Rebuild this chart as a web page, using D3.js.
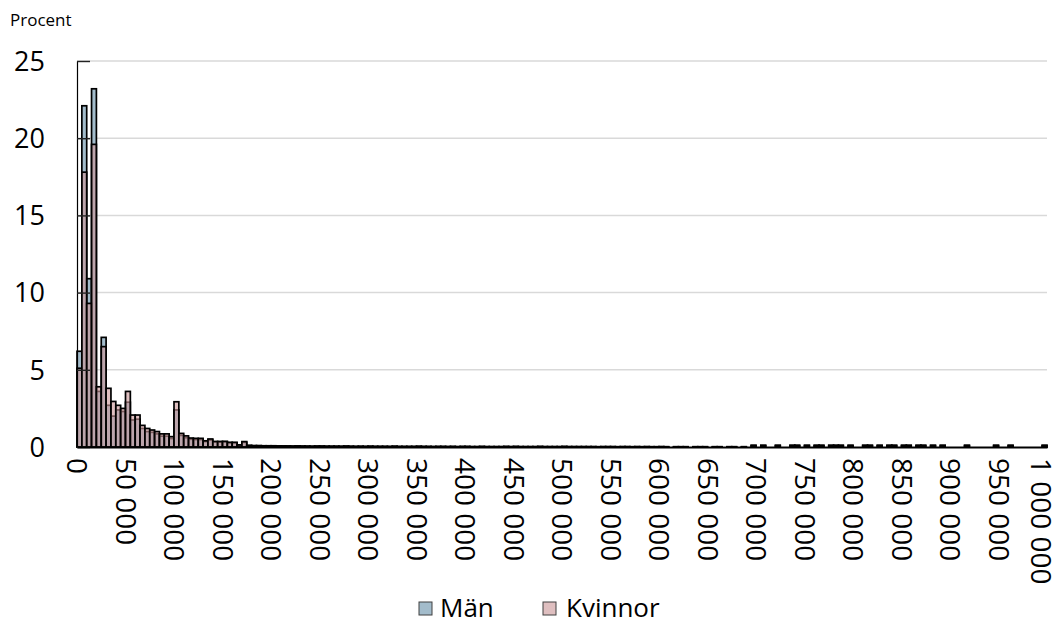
<!DOCTYPE html>
<html>
<head>
<meta charset="utf-8">
<script src="https://cdn.jsdelivr.net/npm/d3@7"></script>
<style>
  html, body { margin: 0; padding: 0; background: #fff; }
  svg { display: block; font-family: "Open Sans", "Noto Sans", sans-serif; }
</style>
</head>
<body>
<svg id="chart" width="1058" height="624"></svg>
<script>
// ---- Data ----
const seriesNames = ["Män", "Kvinnor"];
const binWidth = 5000;
const xTickValues = [0, 50000, 100000, 150000, 200000, 250000, 300000, 350000, 400000, 450000, 500000,
  550000, 600000, 650000, 700000, 750000, 800000, 850000, 900000, 950000, 1000000];
const xTickLabels = ["0", "50 000", "100 000", "150 000", "200 000", "250 000", "300 000", "350 000",
  "400 000", "450 000", "500 000", "550 000", "600 000", "650 000", "700 000", "750 000", "800 000",
  "850 000", "900 000", "950 000", "1 000 000"];
const yTickValues = [0, 5, 10, 15, 20, 25];
const yTickLabels = ["0", "5", "10", "15", "20", "25"];

// Percent per 5 000 bin (200 bins: 0–5 000, 5 000–10 000, …)
const man = [
  6.2, 22.1, 10.9, 23.2, 3.6, 7.1, 2.7, 2.0, 2.4, 2.3,
  2.9, 1.75, 1.8, 1.2, 1.0, 0.95, 0.85, 0.7, 0.7, 0.55,
  2.4, 0.75, 0.6, 0.5, 0.48, 0.48, 0.35, 0.45, 0.33, 0.32,
  0.35, 0.28, 0.28, 0.13, 0.3, 0.1, 0.09, 0.09, 0.08, 0.08,
  0.08, 0.07, 0.07, 0.07, 0.06, 0.07, 0.06, 0.06, 0.05, 0.06,
  0.06, 0.05, 0.05, 0.05, 0.05, 0.06, 0.05, 0.04, 0.05, 0.04,
  0.05, 0.04, 0.04, 0.04, 0.04, 0.05, 0.04, 0.04, 0.04, 0.04,
  0.05, 0.04, 0.04, 0.03, 0.04, 0.04, 0.03, 0.04, 0.03, 0.04,
  0.04, 0.03, 0.03, 0.04, 0.03, 0.03, 0.03, 0.03, 0.04, 0.03,
  0.04, 0.03, 0.03, 0.03, 0.03, 0.04, 0.03, 0.03, 0.03, 0.03,
  0.04, 0.03, 0.03, 0.03, 0.03, 0.03, 0.03, 0.02, 0.03, 0.03,
  0.03, 0.02, 0.03, 0.03, 0.02, 0.03, 0.02, 0.03, 0.02, 0.02,
  0.03, 0.02, 0, 0.02, 0.02, 0.02, 0, 0.02, 0.02, 0.02,
  0, 0.02, 0.02, 0, 0.02, 0.02, 0, 0.02, 0, 0.12,
  0, 0.12, 0, 0, 0.12, 0, 0, 0.12, 0.12, 0,
  0.12, 0, 0.12, 0.12, 0, 0.12, 0.12, 0.12, 0, 0.12,
  0, 0, 0.12, 0.12, 0, 0.12, 0, 0.12, 0.12, 0,
  0.12, 0.12, 0, 0.12, 0.12, 0, 0.12, 0, 0.12, 0,
  0, 0, 0, 0.12, 0, 0, 0, 0, 0, 0.12,
  0, 0, 0.12, 0, 0, 0, 0, 0, 0, 0.12
];
const kvinnor = [
  5.1, 17.8, 9.3, 19.6, 3.9, 6.5, 3.8, 2.95, 2.7, 2.5,
  3.6, 2.07, 2.07, 1.4, 1.2, 1.1, 1.0, 0.85, 0.85, 0.67,
  2.93, 0.88, 0.72, 0.58, 0.56, 0.56, 0.4, 0.52, 0.36, 0.36,
  0.36, 0.3, 0.3, 0.13, 0.35, 0.1, 0.08, 0.08, 0.07, 0.07,
  0.06, 0.06, 0.06, 0.05, 0.05, 0.06, 0.05, 0.04, 0.04, 0.05,
  0.05, 0.04, 0.04, 0.04, 0.03, 0.05, 0.03, 0.03, 0.03, 0.03,
  0.04, 0.03, 0.03, 0.03, 0.02, 0.04, 0.02, 0.02, 0.02, 0.02,
  0.03, 0.02, 0.02, 0.02, 0.02, 0.02, 0.02, 0.02, 0.01, 0.02,
  0.02, 0.01, 0.01, 0.02, 0.01, 0.01, 0.01, 0.01, 0.02, 0.01,
  0.02, 0.01, 0.01, 0.01, 0.01, 0.02, 0.01, 0.01, 0.01, 0.01,
  0.02, 0.01, 0.01, 0.01, 0.01, 0.01, 0.01, 0.01, 0.01, 0.01,
  0.01, 0.01, 0.01, 0.01, 0.01, 0.01, 0.01, 0.01, 0.01, 0.01,
  0.01, 0.01, 0, 0.01, 0.01, 0.01, 0, 0.01, 0.01, 0.01,
  0, 0.01, 0.01, 0, 0.01, 0.01, 0, 0.01, 0, 0.08,
  0, 0.08, 0, 0, 0.08, 0, 0, 0.08, 0.08, 0,
  0.08, 0, 0.08, 0.08, 0, 0.08, 0.08, 0.08, 0, 0.08,
  0, 0, 0.08, 0.08, 0, 0.08, 0, 0.08, 0.08, 0,
  0.08, 0.08, 0, 0.08, 0.08, 0, 0.08, 0, 0.08, 0,
  0, 0, 0, 0.08, 0, 0, 0, 0, 0, 0.08,
  0, 0, 0.08, 0, 0, 0, 0, 0, 0, 0.08
];

// ---- Layout ----
const svg = d3.select("#chart");
const x = d3.scaleLinear().domain([0, 1000000]).range([77, 1047]);
const y = d3.scaleLinear().domain([0, 25]).range([447, 61]);

const colors = { "Män": "#a3bccb", "Kvinnor": "rgb(204,152,154)" };
const opac = { "Män": 1, "Kvinnor": 0.62 };

// gridlines
svg.append("g")
  .selectAll("line")
  .data(yTickValues.filter(v => v > 0))
  .join("line")
  .attr("x1", x(0)).attr("x2", x(1000000))
  .attr("y1", d => y(d)).attr("y2", d => y(d))
  .attr("stroke", "#d9d9d9").attr("stroke-width", 1.5);

// bars
function drawSeries(name, values) {
  const data = values.map((v, i) => ({ start: i * binWidth, v })).filter(d => d.v > 0);
  svg.append("g")
    .selectAll("rect")
    .data(data)
    .join("rect")
    .attr("x", d => x(d.start))
    .attr("width", d => x(d.start + binWidth) - x(d.start))
    .attr("y", d => y(d.v))
    .attr("height", d => y(0) - y(d.v))
    .attr("fill", colors[name])
    .attr("fill-opacity", opac[name])
    .attr("stroke", "#000")
    .attr("stroke-width", 1.7);
}
drawSeries("Män", man);
drawSeries("Kvinnor", kvinnor);

// y axis
const yAxis = d3.axisRight(y)
  .tickValues(yTickValues)
  .tickFormat(() => "")
  .tickSize(13)
  .tickSizeOuter(0);
const gy = svg.append("g").attr("transform", `translate(${x(0)},0)`).call(yAxis);
gy.select(".domain").attr("stroke", "#000").attr("stroke-width", 1.2);
gy.selectAll(".tick line").attr("stroke", "#222").attr("stroke-width", 1.4);

svg.append("g")
  .selectAll("text")
  .data(yTickValues)
  .join("text")
  .attr("x", 45)
  .attr("y", d => y(d))
  .attr("dy", "0.36em")
  .attr("text-anchor", "end")
  .attr("font-size", 27)
  .attr("fill", "#000")
  .text((d, i) => yTickLabels[i]);

// x axis
const xAxis = d3.axisBottom(x)
  .tickValues(xTickValues)
  .tickFormat((d, i) => xTickLabels[i])
  .tickSize(0)
  .tickPadding(0);
const gx = svg.append("g").attr("transform", `translate(0,${y(0)})`).call(xAxis);
gx.select(".domain").attr("stroke", "#000").attr("stroke-width", 2);
gx.selectAll(".tick text")
  .attr("font-size", 28)
  .attr("font-family", "Open Sans, Noto Sans, sans-serif")
  .attr("fill", "#000")
  .attr("transform", "rotate(90)")
  .attr("text-anchor", "start")
  .attr("x", 11)
  .attr("y", 0)
  .attr("dy", "0.36em");
// keep last label inside the picture
gx.selectAll(".tick").filter(d => d === 1000000)
  .attr("transform", `translate(${x(1000000) - 6},0)`);

// axis title
svg.append("text")
  .attr("x", 10).attr("y", 26)
  .attr("font-size", 17)
  .attr("fill", "#000")
  .text("Procent");

// legend
const legendItems = [
  { name: "Män", sx: 419, tx: 440 },
  { name: "Kvinnor", sx: 543, tx: 566 }
];
const lg = svg.append("g");
legendItems.forEach(it => {
  lg.append("rect")
    .attr("x", it.sx).attr("y", 602)
    .attr("width", 13).attr("height", 13)
    .attr("fill", colors[it.name])
    .attr("fill-opacity", opac[it.name])
    .attr("stroke", "#404040").attr("stroke-width", 1);
  lg.append("text")
    .attr("x", it.tx).attr("y", 617)
    .attr("font-size", 26)
    .attr("fill", "#000")
    .text(it.name);
});
</script>
</body>
</html>
